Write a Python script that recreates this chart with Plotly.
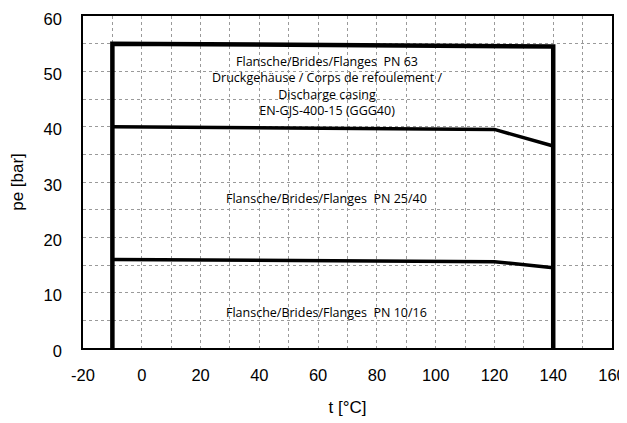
import plotly.graph_objects as go

# Data
t_pn63 = [-10, -10, 140, 140]
p_pn63 = [0, 55, 54.5, 0]
t_pn40 = [-10, 120, 140]
p_pn40 = [40, 39.5, 36.5]
t_pn16 = [-10, 120, 140]
p_pn16 = [16, 15.6, 14.5]

label_pn63 = ("Flansche/Brides/Flanges  PN 63<br>Druckgehäuse / Corps de refoulement /"
              "<br>Discharge casing<br>EN-GJS-400-15 (GGG40)")
label_pn40 = "Flansche/Brides/Flanges  PN 25/40"
label_pn16 = "Flansche/Brides/Flanges  PN 10/16"

x_ticks = [-20, 0, 20, 40, 60, 80, 100, 120, 140, 160]
y_ticks = [0, 10, 20, 30, 40, 50, 60]

fig = go.Figure()
fig.add_trace(go.Scatter(x=t_pn63, y=p_pn63, mode="lines", line=dict(color="black", width=4.5), showlegend=False))
fig.add_trace(go.Scatter(x=t_pn40, y=p_pn40, mode="lines", line=dict(color="black", width=3.5), showlegend=False))
fig.add_trace(go.Scatter(x=t_pn16, y=p_pn16, mode="lines", line=dict(color="black", width=3.5), showlegend=False))

ann_font = dict(family="Open Sans, Noto Sans, sans-serif", size=12.5, color="black")
fig.add_annotation(x=63, y=47.4, text=label_pn63, showarrow=False, font=ann_font,
                   align="center", xanchor="center", yanchor="middle")
fig.add_annotation(x=63, y=27, text=label_pn40, showarrow=False, font=ann_font,
                   xanchor="center", yanchor="middle")
fig.add_annotation(x=63, y=6.5, text=label_pn16, showarrow=False, font=ann_font,
                   xanchor="center", yanchor="middle")

gcol = "#9a9a9a"
tick_font = dict(family="Liberation Sans, Arial, sans-serif", size=16.5, color="black")
title_font = dict(family="Liberation Sans, Arial, sans-serif", size=17, color="black")
fig.update_xaxes(range=[-20, 160], tickvals=x_ticks, ticktext=[str(v) for v in x_ticks],
                 showline=True, linecolor="black", linewidth=1.5, mirror=True,
                 zeroline=False, ticks="outside", ticklen=11, tickcolor="rgba(0,0,0,0)",
                 showgrid=True, gridcolor=gcol, gridwidth=1, griddash="dot",
                 minor=dict(dtick=10, tick0=0, showgrid=True, gridcolor=gcol, griddash="dot", gridwidth=1),
                 tickfont=tick_font, automargin=False, ticklabeloverflow="allow",
                 title=dict(text="t [°C]", font=title_font, standoff=19))
fig.update_yaxes(range=[0, 60], tickvals=y_ticks, ticktext=[str(v) for v in y_ticks],
                 showline=True, linecolor="black", linewidth=1.5, mirror=True,
                 zeroline=False, ticks="outside", ticklen=16, tickcolor="rgba(0,0,0,0)",
                 showgrid=True, gridcolor=gcol, gridwidth=1, griddash="dot",
                 minor=dict(dtick=5, tick0=0, showgrid=True, gridcolor=gcol, griddash="dot", gridwidth=1),
                 tickfont=tick_font, automargin=False, ticklabeloverflow="allow", ticklabelshift=3,
                 title=dict(text="pe [bar]", font=title_font, standoff=16))

# page body has an 8px margin, so the figure is shrunk to fit the 627x423 window
fig.update_layout(width=619, height=415, margin=dict(l=75, r=15, t=8, b=75),
                  plot_bgcolor="white", paper_bgcolor="white")
fig.write_html("out.html")
